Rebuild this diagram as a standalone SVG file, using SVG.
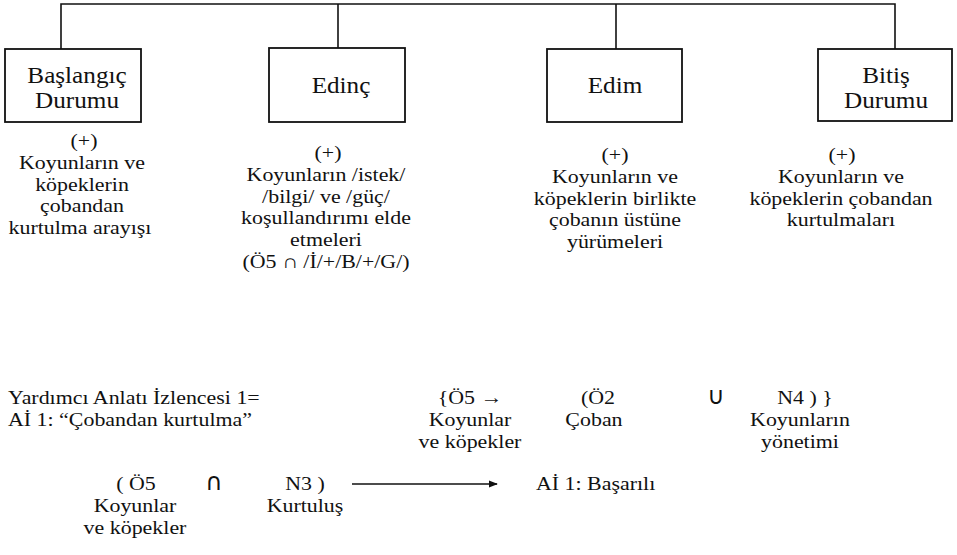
<svg xmlns="http://www.w3.org/2000/svg" width="957" height="555" viewBox="0 0 957 555" font-family="'Liberation Serif', 'DejaVu Serif', serif">
<style>
text{font-family:"Liberation Serif","Times New Roman","DejaVu Serif",serif;fill:#111;}
.bx{font-size:22.5px;text-anchor:middle;}
.t{font-size:19.4px;text-anchor:middle;}
.l{font-size:19.4px;}
.sym{font-family:"DejaVu Sans","Liberation Sans",sans-serif;font-size:24px;text-anchor:middle;}
.ln{stroke:#111;stroke-width:1.6;fill:none;}
.box{stroke:#111;stroke-width:1.8;fill:#fff;}
</style>
<defs>
<marker id="ah" viewBox="0 0 10 10" refX="9" refY="5" markerWidth="9" markerHeight="9" markerUnits="userSpaceOnUse" orient="auto">
<path d="M0,1 L10,5 L0,9 Z" fill="#111"/>
</marker>
</defs>
<g id="connectors">
<path class="ln" d="M61,49 V4 H895 V49"/>
<path class="ln" d="M338,4 V48"/>
<path class="ln" d="M616,4 V49"/>
<path class="ln" d="M352,484 H497" marker-end="url(#ah)"/>
</g>
<g id="baslangic">
<rect class="box" x="5" y="49" width="136" height="73"/>
<text class="bx" transform="translate(77 0) scale(1.12 1)"><tspan x="0" y="83">Başlangıç</tspan><tspan x="0" y="108">Durumu</tspan></text>
</g>
<g id="edinc">
<rect class="box" x="269" y="48" width="136" height="74"/>
<text class="bx" transform="translate(341 0) scale(1.12 1)" x="0" y="93">Edinç</text>
</g>
<g id="edim">
<rect class="box" x="547" y="49" width="135" height="73"/>
<text class="bx" transform="translate(615 0) scale(1.12 1)" x="0" y="93">Edim</text>
</g>
<g id="bitis">
<rect class="box" x="818" y="49" width="134" height="72"/>
<text class="bx" transform="translate(886 0) scale(1.12 1)"><tspan x="0" y="83">Bitiş</tspan><tspan x="0" y="108">Durumu</tspan></text>
</g>
<g id="desc1">
<text class="t" transform="translate(82 0) scale(1.13 1)"><tspan x="1.8" y="147">(+)</tspan><tspan x="0" y="168.8">Koyunların ve</tspan><tspan x="0" y="190.6">köpeklerin</tspan><tspan x="0" y="212.4">çobandan</tspan><tspan x="-1.8" y="234.2">kurtulma arayışı</tspan></text>
</g>
<g id="desc2">
<text class="t" transform="translate(326 0) scale(1.13 1)"><tspan x="1.8" y="159">(+)</tspan><tspan x="0" y="180.8">Koyunların /istek/</tspan><tspan x="0" y="202.6">/bilgi/ ve /güç/</tspan><tspan x="0" y="224.4">koşullandırımı elde</tspan><tspan x="0" y="246.2">etmeleri</tspan><tspan x="0" y="268">(Ö5 ∩ /İ/+/B/+/G/)</tspan></text>
</g>
<g id="desc3">
<text class="t" transform="translate(615 0) scale(1.13 1)"><tspan x="0" y="161">(+)</tspan><tspan x="0" y="182.8">Koyunların ve</tspan><tspan x="0" y="204.6">köpeklerin birlikte</tspan><tspan x="0" y="226.4">çobanın üstüne</tspan><tspan x="0" y="248.2">yürümeleri</tspan></text>
</g>
<g id="desc4">
<text class="t" transform="translate(841 0) scale(1.13 1)"><tspan x="0.9" y="161">(+)</tspan><tspan x="0" y="182.8">Koyunların ve</tspan><tspan x="0" y="204.6">köpeklerin çobandan</tspan><tspan x="0" y="226.4">kurtulmaları</tspan></text>
</g>
<g id="program">
<text class="l" transform="translate(8 0) scale(1.13 1)"><tspan x="0" y="404">Yardımcı Anlatı İzlencesi 1=</tspan><tspan x="0" y="425.8">Aİ 1: “Çobandan kurtulma”</tspan></text>
<text class="t" transform="translate(470 0) scale(1.13 1)"><tspan x="0" y="404">{Ö5 →</tspan><tspan x="0" y="425.8">Koyunlar</tspan><tspan x="0" y="447.6">ve köpekler</tspan></text>
<text class="t" transform="translate(596 0) scale(1.13 1)"><tspan x="1.8" y="404">(Ö2</tspan><tspan x="-1.8" y="425.8">Çoban</tspan></text>
<text class="sym" x="716" y="404">∪</text>
<text class="t" transform="translate(802 0) scale(1.13 1)"><tspan x="2.7" y="404">N4 ) }</tspan><tspan x="-1.8" y="425.8">Koyunların</tspan><tspan x="-1.8" y="447.6">yönetimi</tspan></text>
</g>
<g id="result">
<text class="t" transform="translate(135 0) scale(1.13 1)"><tspan x="0.9" y="490">( Ö5</tspan><tspan x="0" y="511.8">Koyunlar</tspan><tspan x="0" y="533.6">ve köpekler</tspan></text>
<text class="sym" x="214" y="490">∩</text>
<text class="t" transform="translate(305 0) scale(1.13 1)"><tspan x="0" y="490">N3 )</tspan><tspan x="0" y="511.8">Kurtuluş</tspan></text>
<text class="l" transform="translate(536 0) scale(1.13 1)" x="0" y="490">Aİ 1: Başarılı</text>
</g>
</svg>
